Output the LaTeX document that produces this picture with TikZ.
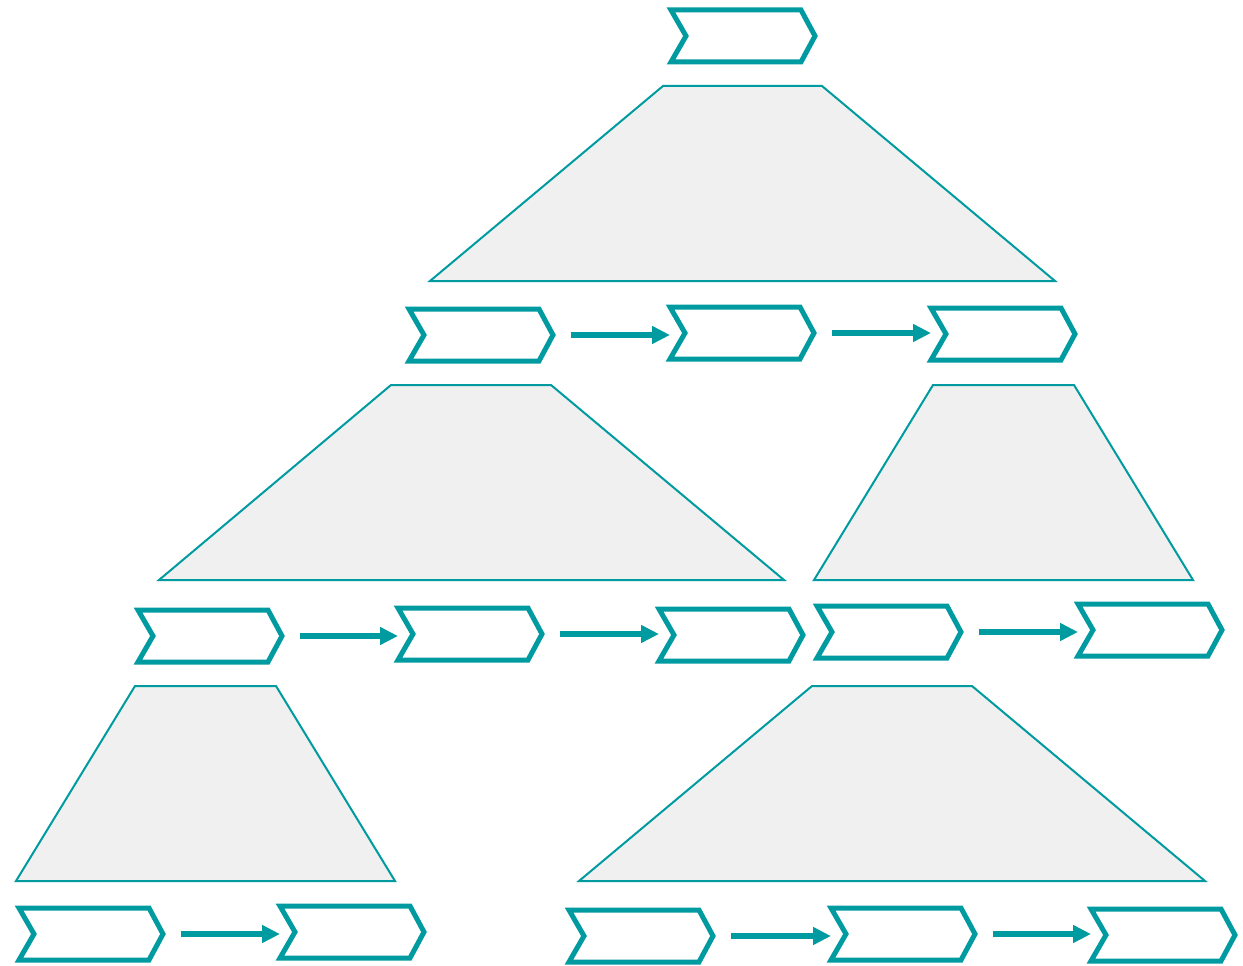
\documentclass[tikz,border=0pt]{standalone}
\usetikzlibrary{arrows.meta,calc}
\definecolor{teal1}{RGB}{0,155,160}
\definecolor{trapfill}{RGB}{240,240,240}
\tikzset{
  box/.style={rectangle,minimum width=144pt,minimum height=52pt,inner sep=0pt,outer sep=0pt},
  chevline/.style={draw=teal1,line width=5pt,fill=white,line join=miter},
  trap/.style={draw=teal1,line width=2pt,fill=trapfill,line join=miter},
  link/.style={draw=teal1,line width=5.5pt,-{Triangle[length=18pt,width=17pt]},shorten <=18pt}
}
\newcommand{\chevron}[3]{%
  \node[box] (#1) at (#2,#3) {};
  \draw[chevline] ($(#1.center)+(-72,-26)$) -- ($(#1.center)+(58,-26)$) -- ($(#1.center)+(72,0)$)
     -- ($(#1.center)+(58,26)$) -- ($(#1.center)+(-72,26)$) -- ($(#1.center)+(-57,0)$) -- cycle;
}
\begin{document}
\begin{tikzpicture}[x=1pt,y=-1pt]
\useasboundingbox (0,0) rectangle (1243,966);
% trapezoids
\draw[trap] (663,86) -- (822,86) -- (1055,281) -- (430,281) -- cycle;
\draw[trap] (391,385) -- (551,385) -- (784,580) -- (159,580) -- cycle;
\draw[trap] (933,385) -- (1074,385) -- (1193,580) -- (814,580) -- cycle;
\draw[trap] (135,686) -- (276,686) -- (395,881) -- (16,881) -- cycle;
\draw[trap] (812,686) -- (972,686) -- (1205,881) -- (579,881) -- cycle;
% chevrons
\chevron{c1}{743}{36}
\chevron{c2}{481}{335}
\chevron{c3}{742}{333}
\chevron{c4}{1003}{334}
\chevron{c5}{210}{636}
\chevron{c6}{470}{634}
\chevron{c7}{731}{635}
\chevron{c8}{889}{632}
\chevron{c9}{1150}{630}
\chevron{c10}{91}{934}
\chevron{c11}{352}{932}
\chevron{c12}{641}{936}
\chevron{c13}{903}{934}
\chevron{c14}{1163}{935}
% arrows
\draw[link] (c2.east) -- (c2.east -| c3.west);
\draw[link] (c3.east) -- (c3.east -| c4.west);
\draw[link] (c5.east) -- (c5.east -| c6.west);
\draw[link] (c6.east) -- (c6.east -| c7.west);
\draw[link] (c8.east) -- (c8.east -| c9.west);
\draw[link] (c10.east) -- (c10.east -| c11.west);
\draw[link] (c12.east) -- (c12.east -| c13.west);
\draw[link] (c13.east) -- (c13.east -| c14.west);
\end{tikzpicture}
\end{document}
